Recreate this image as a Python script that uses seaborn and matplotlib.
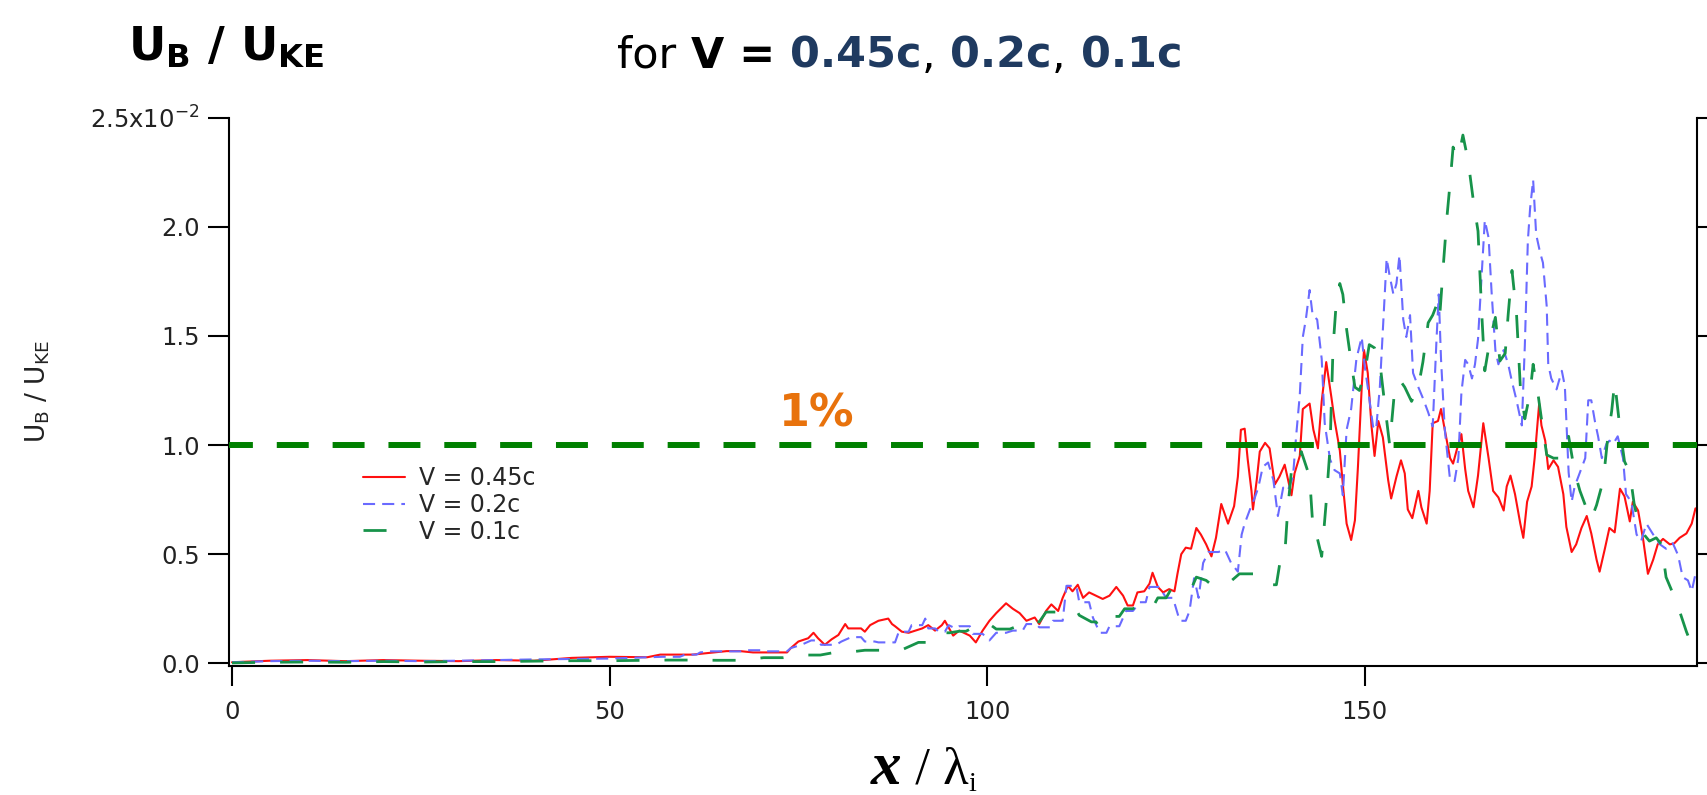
import matplotlib
matplotlib.use("Agg")
import matplotlib.pyplot as plt
import numpy as np
import pandas as pd
import seaborn as sns

# ---------------- data (values in units of 1e-2) ----------------
labels = ["V = 0.45c", "V = 0.2c", "V = 0.1c"]

red_x = [0, 5, 10, 15, 20, 25, 30, 35, 40, 45, 50, 55,
         56.7, 61, 65.5, 67.3, 69, 73.5, 74, 75, 76.3, 77, 77.6, 78.5, 79.4, 80.3, 81.2, 81.6, 83.3, 83.8,
         84.5, 85.6, 86.9, 87.4, 87.8, 88.7, 89.6, 90.5, 91.4, 92.2, 93.1, 94, 94.4, 95.5, 96.3, 97.7,
         98.5, 99.4, 100.3, 101.2, 102.5, 103.4, 104.3, 105.2, 106.3, 106.9, 107.8, 108.5, 109.4, 110,
         110.7, 111.3, 112, 112.7, 113.5, 114.4, 115.3, 116.2, 117.1, 118, 118.6, 119.3, 119.9, 120.8,
         121.5, 121.9, 122.6, 123.3, 124.1, 124.8, 125.2, 125.7, 126.3, 127, 127.7, 128.3, 129, 129.7,
         130.3, 131, 131.9, 132.7, 133.2, 133.6, 134.1, 134.5, 135, 135.2, 135.7, 136.1, 136.8, 137.4,
         138.1, 138.7, 139.4, 140.3, 140.7, 141.4, 141.8, 142.7, 143.2, 143.8, 144.3, 144.9, 145.6, 146,
         146.7, 147.1, 147.6, 148.2, 148.7, 149.1, 149.6, 149.9, 150.4, 150.9, 151.3, 151.8, 152.4, 153.1,
         153.5, 154.2, 154.8, 155.3, 155.7, 156.3, 157.1, 157.5, 158.2, 158.6, 159, 159.7, 160.1, 160.6,
         161.3, 161.7, 162.2, 162.8, 163.3, 163.7, 164.4, 165, 165.7, 166.4, 167, 167.7, 168.4, 168.8,
         169.3, 169.9, 170.6, 171, 171.5, 172.1, 172.5, 173.1, 173.4, 173.9, 174.3, 175, 175.6, 176.3,
         176.7, 177.4, 178, 178.7, 179.4, 180, 180.7, 181.1, 181.8, 182.4, 183.1, 183.8, 184.4, 185.1,
         185.5, 186.2, 186.9, 187.5, 188.2, 188.8, 189.5, 190.4, 191, 191.7, 192.6, 193.3, 193.8]
red_y = [0.005, 0.012, 0.015, 0.01, 0.015, 0.012, 0.01, 0.015, 0.012, 0.025, 0.03, 0.028,
         0.04, 0.04, 0.056, 0.056, 0.05, 0.05, 0.07, 0.1, 0.115, 0.14, 0.115, 0.085, 0.11, 0.13, 0.18, 0.16, 0.16, 0.145,
         0.175, 0.195, 0.205, 0.18, 0.17, 0.145, 0.14, 0.15, 0.16, 0.175, 0.15, 0.175, 0.195, 0.127, 0.15, 0.127,
         0.096, 0.15, 0.195, 0.23, 0.275, 0.25, 0.23, 0.195, 0.21, 0.18, 0.24, 0.27, 0.24, 0.3,
         0.355, 0.33, 0.36, 0.3, 0.325, 0.31, 0.295, 0.31, 0.35, 0.31, 0.265, 0.265, 0.325, 0.33,
         0.365, 0.415, 0.35, 0.325, 0.34, 0.33, 0.41, 0.5, 0.53, 0.525, 0.62, 0.59, 0.545, 0.49,
         0.575, 0.73, 0.64, 0.72, 0.855, 1.07, 1.075, 0.935, 0.79, 0.705, 0.84, 0.97, 1.01, 0.985,
         0.82, 0.855, 0.91, 0.77, 0.87, 0.95, 1.165, 1.19, 1.07, 0.985, 1.2, 1.38, 1.215, 1.115,
         0.975, 0.82, 0.64, 0.565, 0.655, 0.9, 1.265, 1.435, 1.33, 1.085, 0.95, 1.11, 1.035, 0.84,
         0.755, 0.855, 0.93, 0.87, 0.705, 0.665, 0.79, 0.715, 0.64, 0.79, 1.1, 1.11, 1.165, 1.07,
         0.94, 0.915, 0.98, 1.05, 0.89, 0.79, 0.715, 0.86, 1.1, 0.94, 0.79, 0.76, 0.7, 0.81,
         0.86, 0.775, 0.64, 0.575, 0.74, 0.81, 0.94, 1.19, 1.09, 1.02, 0.89, 0.93, 0.9, 0.775,
         0.625, 0.51, 0.545, 0.62, 0.675, 0.595, 0.475, 0.42, 0.525, 0.62, 0.6, 0.8, 0.765, 0.65,
         0.74, 0.7, 0.56, 0.41, 0.475, 0.545, 0.57, 0.545, 0.55, 0.575, 0.595, 0.64, 0.71]

blue_x = [0, 5, 10, 15, 20, 25, 30, 35, 40, 45, 50, 55,
          57, 59.3, 60, 61.5, 62, 63.3, 67.7, 68, 70, 70.5, 73.5, 74, 75.4, 76.7, 77.6, 78, 80, 80.7,
          82, 83.3, 83.8, 85.1, 85.6, 87.8, 88.3, 89.6, 90, 91.4, 91.8, 92.2, 93.1, 93.6, 94.4, 94.9,
          95.8, 96.3, 97.7, 98.1, 99.4, 100.3, 101.2, 102.5, 103.4, 104.7, 105.2, 106.5, 106.9, 108.3,
          108.7, 110, 110.5, 111.8, 112.2, 113.5, 114, 114.9, 115.8, 116.2, 117.5, 118.4, 119.3, 120.2,
          121, 121.5, 122.8, 123.7, 124.6, 125.5, 126.3, 126.8, 127.4, 128, 128.6, 129.3, 130.6, 131.5,
          132.3, 133.2, 133.7, 134.1, 134.8, 135.4, 135.9, 136.5, 137.2, 137.9, 138.5, 139.2, 139.8, 140.5,
          140.9, 141.4, 141.8, 142.2, 142.7, 143.1, 143.7, 144.3, 144.7, 145.4, 146, 146.7, 147.1, 147.6,
          148.2, 148.9, 149.6, 150, 150.4, 151.1, 151.5, 152, 152.4, 152.9, 153.3, 153.8, 154.2, 154.6,
          155.1, 155.5, 156, 156.4, 157.1, 157.7, 158.4, 159, 159.5, 159.8, 160.1, 160.6, 161, 161.3,
          161.9, 162.4, 162.8, 163.3, 163.7, 164.2, 164.6, 165, 165.5, 165.9, 166.4, 166.8, 167.3, 167.7,
          168.4, 169, 169.5, 170.1, 170.8, 171.2, 171.6, 171.9, 172.3, 172.7, 173.2, 173.6, 174.1, 174.3,
          174.7, 175.4, 176.1, 176.5, 177, 177.4, 177.8, 178.5, 179.2, 179.6, 180, 180.5, 180.9, 181.4,
          182, 182.4, 182.9, 183.5, 184.2, 184.6, 185.3, 186, 186.6, 187.3, 188.2, 189.1, 189.9, 190.8,
          191.5, 192.1, 192.8, 193.3, 193.8]
blue_y = [0.005, 0.01, 0.012, 0.01, 0.012, 0.01, 0.012, 0.015, 0.018, 0.02, 0.022, 0.028,
          0.03, 0.03, 0.04, 0.04, 0.05, 0.055, 0.055, 0.06, 0.06, 0.055, 0.055, 0.07, 0.085, 0.105, 0.105, 0.085, 0.085, 0.1,
          0.12, 0.12, 0.1, 0.1, 0.096, 0.096, 0.145, 0.145, 0.175, 0.175, 0.205, 0.16, 0.16, 0.145, 0.145, 0.175,
          0.16, 0.17, 0.17, 0.135, 0.135, 0.105, 0.14, 0.14, 0.15, 0.15, 0.18, 0.18, 0.165, 0.165,
          0.195, 0.195, 0.355, 0.355, 0.28, 0.28, 0.21, 0.14, 0.14, 0.17, 0.17, 0.24, 0.24, 0.28,
          0.28, 0.35, 0.35, 0.3, 0.3, 0.195, 0.195, 0.24, 0.39, 0.3, 0.46, 0.51, 0.51, 0.52,
          0.46, 0.42, 0.59, 0.64, 0.705, 0.755, 0.805, 0.9, 0.92, 0.84, 0.675, 0.805, 0.79, 0.855,
          1.035, 1.23, 1.495, 1.575, 1.71, 1.595, 1.575, 1.395, 1.1, 0.935, 0.885, 0.87, 0.77, 1.07,
          1.165, 1.395, 1.495, 1.36, 1.265, 1.085, 1.07, 1.265, 1.53, 1.855, 1.775, 1.69, 1.74, 1.87,
          1.575, 1.495, 1.595, 1.33, 1.265, 1.215, 1.15, 1.085, 1.48, 1.69, 1.395, 1.07, 0.94, 0.84,
          0.835, 0.94, 1.24, 1.39, 1.37, 1.305, 1.37, 1.485, 1.785, 2.03, 1.95, 1.7, 1.435, 1.37,
          1.435, 1.37, 1.29, 1.205, 1.09, 1.455, 1.935, 2.085, 2.215, 1.965, 1.885, 1.835, 1.635, 1.37,
          1.305, 1.255, 1.34, 1.27, 0.875, 0.74, 0.81, 0.875, 0.94, 1.205, 1.205, 1.105, 1.04, 0.94,
          1.005, 1.02, 1.005, 1.04, 0.94, 0.775, 0.74, 0.59, 0.56, 0.64, 0.59, 0.545, 0.525, 0.55,
          0.495, 0.395, 0.38, 0.33, 0.41]

green_x = [0, 5, 10, 15, 20, 25, 30, 35, 40, 45, 50, 55,
           57.6, 60.6, 64.2, 67.3, 70.4, 73, 75.6, 77.9, 79.8, 81.4, 83.8, 85.8, 87.3, 88.9, 90.9, 92.4,
           93.6, 95, 96.3, 97.2, 99, 100.3, 101.2, 103, 104.7, 105.6, 106, 106.9, 107.8, 109.1, 109.6, 111,
           111.8, 112.2, 113.8, 114.4, 114.9, 116.2, 117.5, 118.2, 119.3, 120.2, 121.9, 122.6, 123.7, 124.6,
           125.9, 127.2, 127.7, 129, 129.7, 131, 132.4, 133.4, 134.3, 136.3, 137.6, 138.3, 138.9, 139.4,
           139.8, 140.3, 141.2, 141.6, 142.7, 143.2, 143.6, 144.3, 144.9, 145.4, 145.8, 146.2, 146.7, 147.1,
           147.6, 148.2, 148.7, 149.3, 150, 150.6, 151.3, 152, 152.6, 153.3, 153.9, 154.6, 155.3, 156.2,
           157.1, 157.7, 158.4, 159, 159.5, 159.9, 160.4, 160.9, 161.3, 161.7, 162, 162.4, 163, 163.7,
           164.4, 165, 165.5, 165.9, 166.6, 167.3, 167.9, 168.6, 169, 169.5, 170.1, 170.6, 171.2, 171.9,
           172.3, 173, 173.4, 174.1, 175, 175.9, 177, 177.8, 178.5, 179.2, 180, 180.7, 181.6, 182.2,
           182.7, 183.1, 183.8, 184.4, 185.1, 185.7, 186.4, 187.1, 187.7, 188.6, 189.3, 189.9, 191.3, 192.6,
           193, 193.7]
green_y = [0.002, 0.005, 0.006, 0.005, 0.008, 0.006, 0.008, 0.008, 0.01, 0.012, 0.012, 0.014,
           0.015, 0.015, 0.014, 0.014, 0.026, 0.026, 0.038, 0.038, 0.05, 0.05, 0.06, 0.06, 0.065, 0.065, 0.096, 0.096,
           0.14, 0.14, 0.147, 0.147, 0.18, 0.18, 0.157, 0.157, 0.18, 0.18, 0.19, 0.19, 0.235, 0.235, 0.24, 0.245,
           0.245, 0.22, 0.19, 0.19, 0.165, 0.215, 0.215, 0.25, 0.25, 0.27, 0.255, 0.3, 0.3, 0.355,
           0.355, 0.355, 0.395, 0.38, 0.36, 0.38, 0.38, 0.41, 0.41, 0.41, 0.36, 0.36, 0.49, 0.49,
           0.705, 0.885, 0.885, 0.97, 0.855, 0.59, 0.59, 0.49, 0.74, 0.985, 1.445, 1.64, 1.74, 1.69,
           1.53, 1.38, 1.265, 1.25, 1.33, 1.46, 1.445, 1.38, 1.2, 1.0, 1.23, 1.3, 1.265, 1.2,
           1.265, 1.38, 1.56, 1.595, 1.64, 1.575, 1.82, 2.05, 2.2, 2.365, 2.33, 2.315, 2.42, 2.3,
           2.115, 1.98, 1.6, 1.34, 1.485, 1.585, 1.385, 1.42, 1.6, 1.8, 1.6, 1.27, 1.12, 1.24,
           1.37, 1.22, 1.12, 0.955, 0.94, 0.94, 1.04, 0.875, 0.79, 0.725, 0.66, 0.725, 0.84, 1.04,
           1.155, 1.29, 1.075, 0.925, 0.875, 0.725, 0.625, 0.585, 0.56, 0.575, 0.545, 0.395, 0.28, 0.145,
           0.11, 0.08]

threshold = 1.0
x_ticks = [0, 50, 100, 150]
y_ticks = [0.0, 0.5, 1.0, 1.5, 2.0, 2.5]
y_ticklabels = ["0.0", "0.5", "1.0", "1.5", "2.0", r"2.5x10$^{-2}$"]

# ---------------- figure ----------------
sns.set_theme(style="white")
plt.rcParams["font.family"] = ["DejaVu Sans"]
plt.rcParams["mathtext.fontset"] = "dejavusans"

W, H = 1708, 795
fig = plt.figure(figsize=(W / 100, H / 100), dpi=100)
ax = fig.add_axes([229 / W, 1 - 666.4 / H, (1697 - 229) / W, (666.4 - 117.6) / H])

frames = []
for lab, xs, ys in [(labels[0], red_x, red_y), (labels[1], blue_x, blue_y), (labels[2], green_x, green_y)]:
    frames.append(pd.DataFrame({"x": xs, "v": ys, "series": lab}))
df = pd.concat(frames, ignore_index=True)

styles = {
    labels[0]: dict(color="#ff1010", lw=1.5, linestyle="-"),
    labels[1]: dict(color="#6a6aff", lw=1.5, linestyle=(0, (5.8, 3.4))),
    labels[2]: dict(color="#17934a", lw=2.0, linestyle=(0, (8.3, 9.0))),
}
for lab in labels:
    st = styles[lab]
    sns.lineplot(data=df[df.series == lab], x="x", y="v", ax=ax, estimator=None, sort=False,
                 color=st["color"], lw=st["lw"], linestyle=st["linestyle"], label=lab)

ax.axhline(threshold, color="#008000", lw=4.3, linestyle=(1.35, (5.35, 4.0)), zorder=5)
ax.text(72.4, 1.083, "1%", color="#e8720c", fontsize=32, fontweight="bold", ha="left", va="baseline")

ax.set_xlim(-0.4, 194.0)
ax.set_ylim(-0.014, 2.5)
ax.set_xticks(x_ticks)
ax.set_xticklabels([str(t) for t in x_ticks])
ax.set_yticks(y_ticks)
ax.set_yticklabels(y_ticklabels)
ax.set_xlabel("")
ax.set_ylabel("")

for side in ["left", "right", "bottom"]:
    ax.spines[side].set_visible(True)
    ax.spines[side].set_color("black")
    ax.spines[side].set_linewidth(1.5)
ax.spines["top"].set_visible(False)

ax.tick_params(axis="y", which="both", left=True, right=True, labelright=False,
               direction="out", length=15, width=1.5, labelsize=17.5, pad=6, colors="black")
ax.tick_params(axis="y", labelcolor="#222222")
ax.tick_params(axis="x", which="both", bottom=True, top=False, direction="out",
               length=14.4, width=1.5, labelsize=17.5, pad=10, colors="black")
ax.tick_params(axis="x", labelcolor="#222222")

leg = ax.legend(loc="upper left", bbox_to_anchor=(363 / W, 1 - 466 / H), bbox_transform=fig.transFigure,
                frameon=False, fontsize=17, handlelength=1.78, handletextpad=0.6, labelspacing=0.12,
                borderpad=0, borderaxespad=0)

# ---------------- text blocks ----------------
fig.canvas.draw()
renderer = fig.canvas.get_renderer()


def chain(x_px, base_px, parts):
    x = x_px
    for s, kw, dy in parts:
        t = fig.text(x / W, 1 - (base_px + dy) / H, s, ha="left", va="baseline", **kw)
        bb = t.get_window_extent(renderer=renderer)
        x = bb.x1


navy = "#1f3a60"
chain(617, 68, [
    ("for", dict(fontsize=31, color="black"), 0),
    (" V =", dict(fontsize=31, color="black", fontweight="bold"), 0),
    (" 0.45c", dict(fontsize=31, color=navy, fontweight="bold"), 0),
    (",", dict(fontsize=31, color="black"), 0),
    (" 0.2c", dict(fontsize=31, color=navy, fontweight="bold"), 0),
    (",", dict(fontsize=31, color="black"), 0),
    (" 0.1c", dict(fontsize=31, color=navy, fontweight="bold"), 0),
])

fig.text(128 / W, 1 - 61 / H, r"$\mathbf{U}_\mathbf{B}$ / $\mathbf{U}_\mathbf{KE}$",
         fontsize=33, fontweight="bold", ha="left", va="baseline", color="black")

chain(871, 784, [
    ("x", dict(fontsize=44, family="Liberation Serif", style="italic", fontweight="bold", color="black"), 0),
    (" / λ", dict(fontsize=38, family="Liberation Serif", color="black"), 0),
    ("i", dict(fontsize=20, family="Liberation Serif", color="black"), 7),
])

fig.text(38 / W, 1 - 392 / H, r"U$_\mathrm{B}$ / U$_\mathrm{KE}$", rotation=90,
         fontsize=19, ha="center", va="center", color="#222222")

fig.savefig("out.png", dpi=100)
